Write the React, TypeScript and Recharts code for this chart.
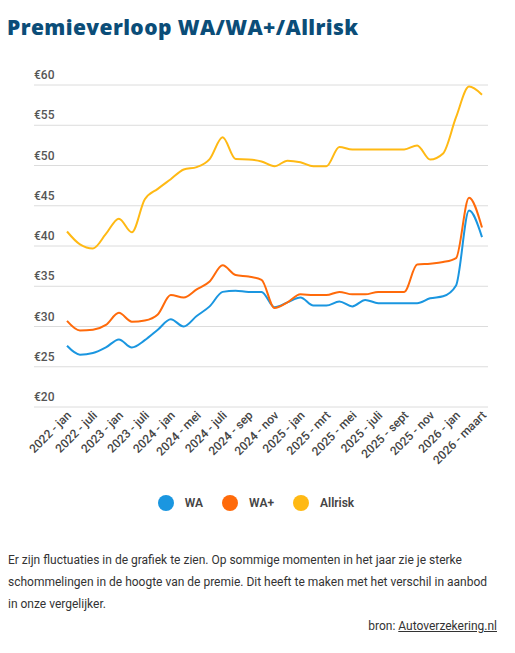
import { CartesianGrid, Line, LineChart, XAxis, YAxis } from "recharts";

const labels = [
  "2022 - jan", "2022 - apr", "2022 - juli", "2022 - okt",
  "2023 - jan", "2023 - apr", "2023 - juli", "2023 - okt",
  "2024 - jan", "2024 - mrt", "2024 - mei", "2024 - jun",
  "2024 - juli", "2024 - aug", "2024 - sep", "2024 - okt",
  "2024 - nov", "2024 - dec", "2025 - jan", "2025 - feb",
  "2025 - mrt", "2025 - apr", "2025 - mei", "2025 - jun",
  "2025 - juli", "2025 - aug", "2025 - sept", "2025 - okt",
  "2025 - nov", "2025 - dec", "2026 - jan", "2026 - feb",
  "2026 - maart",
];

const wa = [
  27.6, 26.5, 26.7, 27.4, 28.4, 27.4, 28.3, 29.6, 30.9, 30.0, 31.3, 32.5,
  34.3, 34.45, 34.3, 34.3, 32.4, 33.0, 33.6, 32.6, 32.6, 33.1, 32.5, 33.3,
  32.9, 32.9, 32.9, 32.9, 33.5, 33.75, 35.1, 44.4, 41.1,
];

const waPlus = [
  30.7, 29.5, 29.6, 30.2, 31.7, 30.6, 30.75, 31.5, 33.9, 33.6, 34.6, 35.6,
  37.6, 36.4, 36.2, 35.8, 32.3, 33.0, 34.0, 33.9, 33.9, 34.3, 34.0, 34.0,
  34.3, 34.3, 34.3, 37.7, 37.8, 38.0, 38.5, 46.0, 42.3,
];

const allrisk = [
  41.8, 40.2, 39.7, 41.5, 43.4, 41.7, 45.8, 47.1, 48.3, 49.5, 49.8, 50.8,
  53.5, 50.8, 50.75, 50.5, 49.9, 50.6, 50.4, 49.9, 49.9, 52.3, 52.0, 52.0,
  52.0, 52.0, 52.0, 52.5, 50.75, 51.5, 56.0, 59.8, 58.8,
];

const yTicks = [20, 25, 30, 35, 40, 45, 50, 55, 60];

const series = [
  { key: "wa", name: "WA", color: "#1a96e0" },
  { key: "waPlus", name: "WA+", color: "#ff6a0a" },
  { key: "allrisk", name: "Allrisk", color: "#ffb914" },
];

const data = labels.map((label, i) => ({
  label,
  wa: wa[i],
  waPlus: waPlus[i],
  allrisk: allrisk[i],
}));

const font = "Roboto, 'Noto Sans', sans-serif";

function YTick({ x, y, payload }: any) {
  return (
    <text x={x} y={y - 6} textAnchor="start" fill="#555" fontSize={12} fontWeight={500} fontFamily={font}>
      €{payload.value}
    </text>
  );
}

function XTick({ x, y, payload }: any) {
  return (
    <g transform={`translate(${x + 5},${y + 9})`}>
      <text x={0} y={0} textAnchor="end" transform="rotate(-45)" fill="#444" fontSize={12} fontWeight={500} fontFamily={font}>
        {payload.value}
      </text>
    </g>
  );
}

export default function App() {
  return (
    <div style={{ position: "absolute", left: 0, top: 0, width: 515, height: 653, background: "#fff", fontFamily: font }}>
      <div
        style={{
          position: "absolute",
          left: 7,
          top: 13,
          fontFamily: "'Open Sans', sans-serif",
          fontWeight: 800,
          fontSize: 21,
          color: "#0b4d78",
          letterSpacing: 0.4,
        }}
      >
        Premieverloop WA/WA+/Allrisk
      </div>

      <div style={{ position: "absolute", left: 0, top: 0 }}>
        <LineChart width={515} height={480} data={data} margin={{ top: 85, right: 27, bottom: 13, left: 33 }}>
          <CartesianGrid stroke="#dcdcdc" vertical={false} />
          <XAxis
            dataKey="label"
            interval={1}
            height={60}
            tick={<XTick />}
            tickLine={false}
            axisLine={false}
            tickSize={0}
            tickMargin={0}
            padding={{ left: 33, right: 6 }}
          />
          <YAxis
            domain={[20, 60]}
            ticks={yTicks}
            width={1}
            tick={<YTick />}
            tickLine={false}
            axisLine={false}
            tickSize={0}
            tickMargin={0}
          />
          {series.map((s) => (
            <Line
              key={s.key}
              type="monotone"
              dataKey={s.key}
              name={s.name}
              stroke={s.color}
              strokeWidth={2}
              dot={false}
              isAnimationActive={false}
            />
          ))}
        </LineChart>
      </div>

      <div style={{ position: "absolute", left: 0, top: 495, width: 515, display: "flex", justifyContent: "center", paddingLeft: 16, boxSizing: "border-box" }}>
        {series.map((s) => (
          <div key={s.key} style={{ display: "flex", alignItems: "center", marginRight: 19 }}>
            <span style={{ width: 16, height: 16, borderRadius: 8, background: s.color, display: "inline-block", marginRight: 11 }} />
            <span style={{ fontSize: 12, fontWeight: 600, color: "#444" }}>{s.name}</span>
          </div>
        ))}
      </div>

      <div style={{ position: "absolute", left: 8, top: 549, width: 484, fontSize: 12, lineHeight: "22px", color: "#333" }}>
        Er zijn fluctuaties in de grafiek te zien. Op sommige momenten in het jaar zie je sterke schommelingen in de hoogte van de premie. Dit heeft te maken met het verschil in aanbod in onze vergelijker.
      </div>
      <div style={{ position: "absolute", right: 18, top: 619, fontSize: 12, color: "#333" }}>
        bron: <span style={{ textDecoration: "underline" }}>Autoverzekering.nl</span>
      </div>
    </div>
  );
}
